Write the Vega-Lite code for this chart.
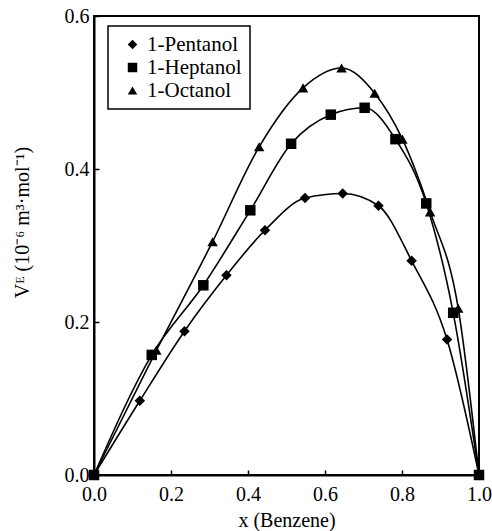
{
  "$schema": "https://vega.github.io/schema/vega-lite/v6.json",
  "width": 385,
  "height": 459,
  "autosize": "none",
  "padding": {"left": 94, "top": 16, "right": 13, "bottom": 56},
  "background": "white",
  "config": {
    "font": "Liberation Serif",
    "view": {"stroke": "black", "strokeWidth": 2},
    "legend": {"strokeWidth": 1.5},
    "axis": {
      "grid": false,
      "labelFlush": false,
      "domainColor": "black",
      "domainWidth": 2,
      "tickColor": "black",
      "tickWidth": 1.5,
      "tickSize": -5,
      "labelFont": "Liberation Serif",
      "labelFontSize": 20,
      "labelColor": "black",
      "titleFont": "Liberation Serif",
      "titleFontSize": 20,
      "titleFontWeight": "normal",
      "titleColor": "black"
    }
  },
  "data": {
    "values": [
      {"s": "1-Pentanol", "x": 0.0, "v": 0.0},
      {"s": "1-Pentanol", "x": 0.119, "v": 0.097},
      {"s": "1-Pentanol", "x": 0.235, "v": 0.188},
      {"s": "1-Pentanol", "x": 0.344, "v": 0.261},
      {"s": "1-Pentanol", "x": 0.444, "v": 0.32},
      {"s": "1-Pentanol", "x": 0.548, "v": 0.362},
      {"s": "1-Pentanol", "x": 0.646, "v": 0.368},
      {"s": "1-Pentanol", "x": 0.739, "v": 0.352},
      {"s": "1-Pentanol", "x": 0.825, "v": 0.28},
      {"s": "1-Pentanol", "x": 0.917, "v": 0.177},
      {"s": "1-Pentanol", "x": 1.0, "v": 0.0},
      {"s": "1-Heptanol", "x": 0.0, "v": 0.0},
      {"s": "1-Heptanol", "x": 0.15, "v": 0.157},
      {"s": "1-Heptanol", "x": 0.284, "v": 0.248},
      {"s": "1-Heptanol", "x": 0.406, "v": 0.346},
      {"s": "1-Heptanol", "x": 0.512, "v": 0.433},
      {"s": "1-Heptanol", "x": 0.615, "v": 0.471},
      {"s": "1-Heptanol", "x": 0.703, "v": 0.48},
      {"s": "1-Heptanol", "x": 0.783, "v": 0.439},
      {"s": "1-Heptanol", "x": 0.863, "v": 0.355},
      {"s": "1-Heptanol", "x": 0.933, "v": 0.212},
      {"s": "1-Heptanol", "x": 1.0, "v": 0.0},
      {"s": "1-Octanol", "x": 0.0, "v": 0.0},
      {"s": "1-Octanol", "x": 0.162, "v": 0.163},
      {"s": "1-Octanol", "x": 0.308, "v": 0.305},
      {"s": "1-Octanol", "x": 0.429, "v": 0.429},
      {"s": "1-Octanol", "x": 0.543, "v": 0.506},
      {"s": "1-Octanol", "x": 0.643, "v": 0.532},
      {"s": "1-Octanol", "x": 0.729, "v": 0.499},
      {"s": "1-Octanol", "x": 0.801, "v": 0.439},
      {"s": "1-Octanol", "x": 0.873, "v": 0.344},
      {"s": "1-Octanol", "x": 0.946, "v": 0.218},
      {"s": "1-Octanol", "x": 1.0, "v": 0.0}
    ]
  },
  "encoding": {
    "x": {
      "field": "x", "type": "quantitative",
      "scale": {"domain": [0, 1], "nice": false, "zero": false},
      "axis": {"values": [0, 0.2, 0.4, 0.6, 0.8, 1.0], "format": ".1f", "title": "x (Benzene)", "labelPadding": 14, "titlePadding": 6}
    },
    "y": {
      "field": "v", "type": "quantitative",
      "scale": {"domain": [0, 0.6], "nice": false},
      "axis": {"values": [0, 0.2, 0.4, 0.6], "format": ".1f", "title": "Vᴱ (10⁻⁶ m³·mol⁻¹)", "labelPadding": 10, "titleX": -62, "titleY": 206}
    }
  },
  "layer": [
    {
      "mark": {"type": "line", "interpolate": "monotone", "color": "black", "strokeWidth": 1.6, "clip": false},
      "encoding": {"detail": {"field": "s"}}
    },
    {
      "mark": {"type": "point", "filled": true, "opacity": 1, "color": "black", "clip": false},
      "encoding": {
        "shape": {
          "field": "s", "type": "nominal",
          "scale": {"domain": ["1-Pentanol", "1-Heptanol", "1-Octanol"], "range": ["diamond", "square", "triangle-up"]},
          "legend": {
            "title": null,
            "orient": "none",
            "legendX": 14,
            "legendY": 10,
            "direction": "vertical",
            "strokeColor": "black",
            "fillColor": "white",
            "padding": 8,
            "labelFont": "Liberation Serif",
            "labelFontSize": 21,
            "labelColor": "black",
            "symbolFillColor": "black",
            "symbolStrokeColor": "black",
            "symbolSize": 90,
            "symbolOffset": 6,
            "labelOffset": 4,
            "rowPadding": 1
          }
        },
        "size": {"value": 110}
      }
    }
  ]
}
